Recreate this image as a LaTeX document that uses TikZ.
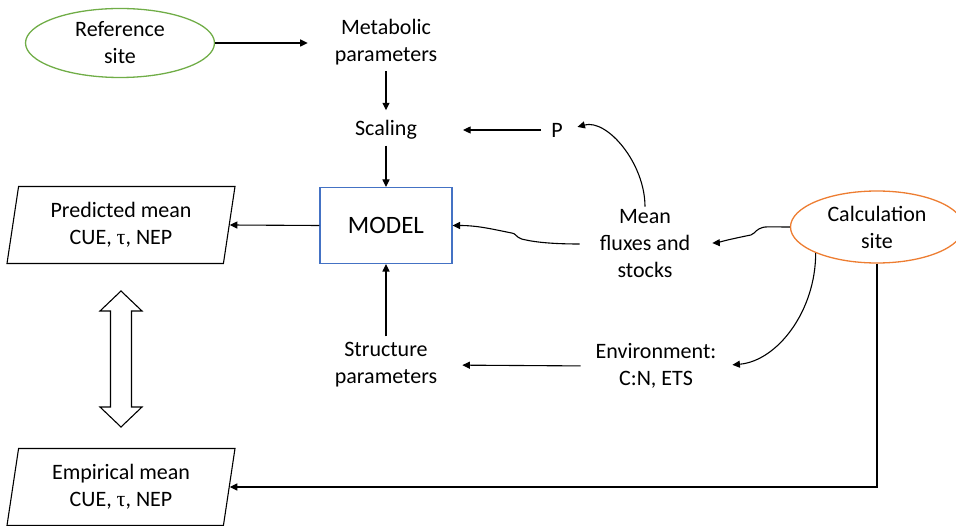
\documentclass[tikz,border=0pt]{standalone}
\usepackage{fontspec}
\setmainfont{Carlito}
\newfontfamily\taufont{Liberation Serif}
\usetikzlibrary{arrows.meta,positioning,shapes.geometric,calc}
\definecolor{refgreen}{HTML}{70AD47}
\definecolor{calcorange}{HTML}{ED7D31}
\definecolor{modelblue}{HTML}{4472C4}
\definecolor{inkblack}{HTML}{000000}

\begin{document}
\begin{tikzpicture}[
  x=1pt, y=-1pt,
  font=\fontsize{22pt}{27pt}\selectfont,
  >={Triangle[length=7.5pt,width=7pt]},
  txt/.style={
    align=center,
    inner sep=3pt
  },
  sitebox/.style={
    ellipse,
    draw,
    line width=1.3pt,
    align=center,
    inner sep=0pt
  },
  modelbox/.style={
    draw=modelblue,
    line width=1.1pt,
    minimum width=132pt,
    minimum height=76pt,
    font=\fontsize{25pt}{30pt}\selectfont
  },
  databox/.style={
    trapezium,
    trapezium left angle=75.6,
    trapezium right angle=104.4,
    trapezium stretches body=true,
    draw=inkblack,
    line width=1.1pt,
    minimum width=228pt,
    minimum height=77pt,
    inner sep=0pt,
    align=center
  },
  arr/.style={
    ->,
    line width=1.1pt,
    draw=inkblack
  }
]
  \useasboundingbox (0,0) rectangle (956,526);

  % ---------------------------------------------------------------------------
  % SITES
  % ---------------------------------------------------------------------------
  \node[sitebox, draw=refgreen, minimum width=189pt, minimum height=69pt] (refsite) at (120,43) {Reference\\site};
  \node[sitebox, draw=calcorange, minimum width=173pt, minimum height=72pt] (calcsite) at (877,227) {Calculation\\site};

  % ---------------------------------------------------------------------------
  % MODEL CHAIN
  % ---------------------------------------------------------------------------
  \node[txt] (metab) at (386,42) {Metabolic\\parameters};
  \node[txt] (scaling) at (386,130) {Scaling};
  \node[modelbox] (model) at (386,225.5) {MODEL};
  \node[txt] (struct) at (386,365) {Structure\\parameters};
  \node[txt] (pval) at (557,130) {P};
  \node[txt] (fluxes) at (645,244) {Mean\\fluxes and\\stocks};
  \node[txt] (env) at (656,366) {Environment:\\C:N, ETS};

  % ---------------------------------------------------------------------------
  % OUTPUTS
  % ---------------------------------------------------------------------------
  \node[databox] (predicted) at (121,225) {Predicted mean\\CUE, {\taufont τ}, NEP};
  \node[databox] (empirical) at (121,487) {Empirical mean\\CUE, {\taufont τ}, NEP};

  % Comparison arrow
  \draw[line width=1.1pt] (121,291) -- (142,311) -- (131.5,311) -- (131.5,407) -- (142,407) -- (121,427)
    -- (100,407) -- (110.5,407) -- (110.5,311) -- (100,311) -- cycle;

  % ---------------------------------------------------------------------------
  % CONNECTORS
  % ---------------------------------------------------------------------------
  \draw[arr, shorten >=24pt] (refsite.east) -- (metab.west |- refsite.east);
  \draw[arr, shorten <=3pt, shorten >=7pt] (metab.south) -- (scaling.north);
  \draw[arr, shorten <=3pt] (scaling.south) -- (model.north);
  \draw[arr, shorten <=7pt, shorten >=43pt] (pval.west) -- (scaling.east);
  \draw[arr, shorten >=12pt] (fluxes.north) to[out=90, in=15] (pval.east);
  \draw[arr] ([xshift=-17pt]fluxes.west) .. controls ++(-35,0) and ++(8,2) .. ++(-58,-5)
    .. controls ++(-6,-2) and ++(4,0) .. ++(-10,-6)
    .. controls ++(-20,-4) and ++(25,0) .. (model.east);
  \draw[arr, shorten >=19pt] (calcsite.west) .. controls ++(-22,0) and ++(5,-3) .. ++(-31,2)
    .. controls ++(-5,3) and ++(4,-1) .. ++(-8,6)
    .. controls ++(-15,3) and ++(20,-1) .. (fluxes.east);
  \draw[arr, shorten >=13pt] (calcsite.203) to[out=-90, in=5] (env.east);
  \draw[arr, shorten <=12pt, shorten >=22pt] (env.west) -- (struct.east);
  \draw[arr, shorten <=3pt] (struct.north) -- (model.south);
  \draw[arr] (model.west) -- (predicted.east);
  \draw[arr] (calcsite.south) |- (empirical.east);

\end{tikzpicture}
\end{document}
